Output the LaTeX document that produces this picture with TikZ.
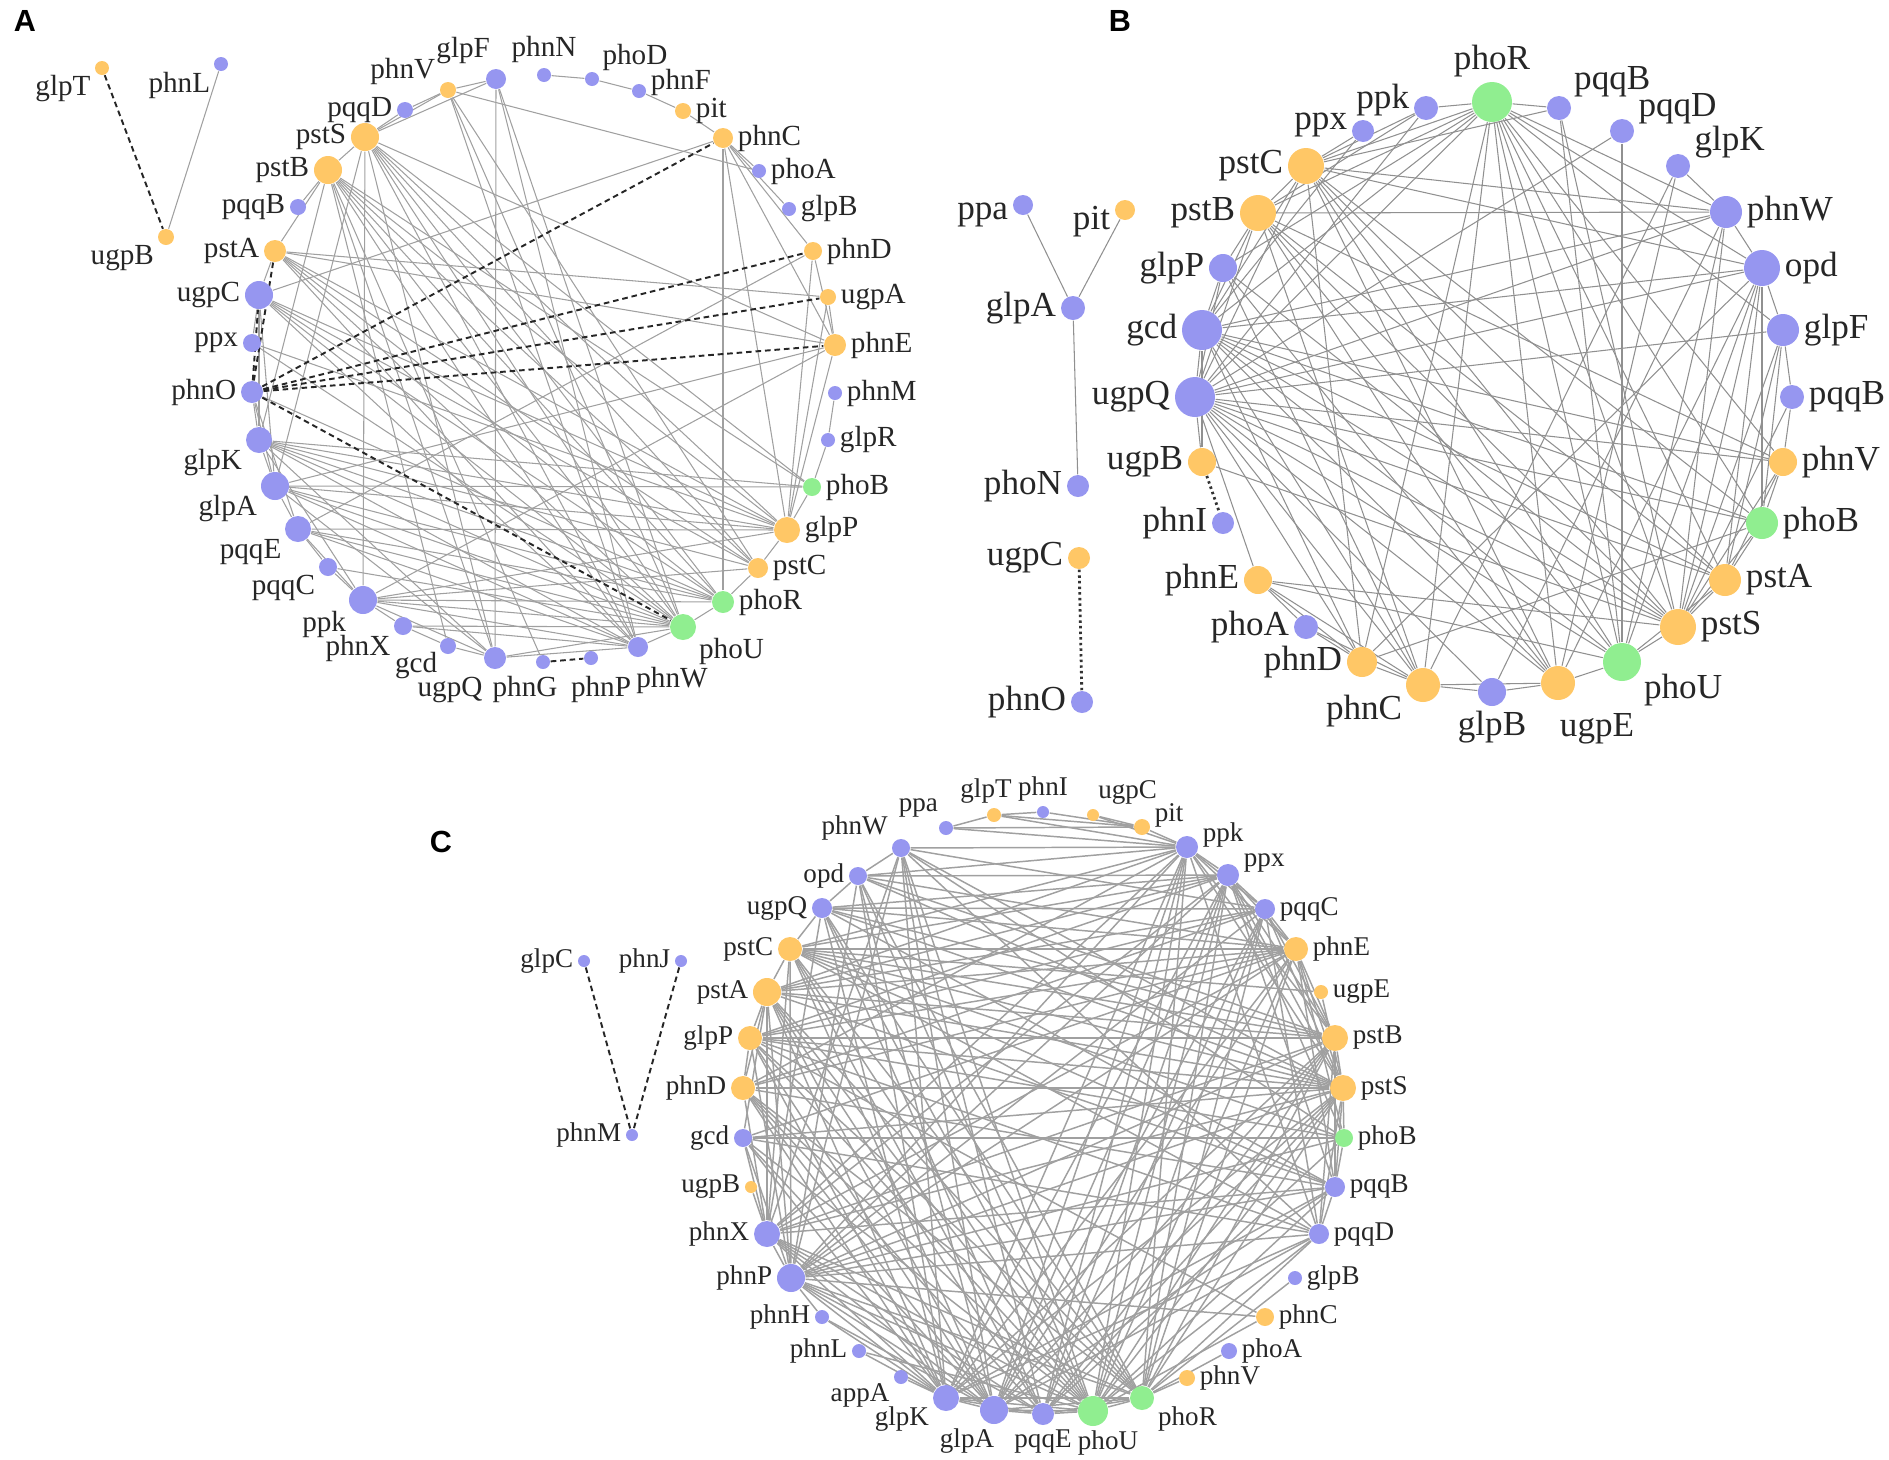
\documentclass[tikz,border=0pt]{standalone}
\usepackage{fontspec}
\setmainfont{Liberation Serif}
\newfontfamily\panelfont{Liberation Sans}
\usetikzlibrary{backgrounds}

\definecolor{nodeblue}{RGB}{150,150,240}
\definecolor{nodeorange}{RGB}{255,199,102}
\definecolor{nodegreen}{RGB}{144,238,144}
\definecolor{edgegray}{RGB}{160,160,160}

\begin{document}
\begin{tikzpicture}[x=0.1mm, y=-0.1mm]
			\tikzset{
				gene/.style={circle, inner sep=0pt, minimum size=#1*0.1mm},
				bgene/.style={gene=#1, fill=nodeblue},
				ogene/.style={gene=#1, fill=nodeorange},
				ggene/.style={gene=#1, fill=nodegreen},
				lblA/.style={font=\fontsize{8.3}{9}\selectfont, inner sep=1pt, text=black!85},
				lblB/.style={font=\fontsize{10}{11}\selectfont, inner sep=1pt, text=black!85},
				lblC/.style={font=\fontsize{7.7}{8.5}\selectfont, inner sep=1pt, text=black!85},
				panel/.style={font=\panelfont\bfseries\fontsize{8.7}{9}\selectfont},
				edgeA/.style={edgegray, line width=0.3pt},
				edgeB/.style={edgegray!90!black, line width=0.3pt},
				edgeC/.style={edgegray, line width=0.42pt},
				dashA/.style={black!85, line width=0.55pt, dash pattern=on 1.6pt off 1.1pt},
				dotB/.style={black!80, line width=0.8pt, dash pattern=on 0.7pt off 0.9pt},
			}
			\useasboundingbox (0,0) rectangle (1889,1459);
			\node[panel](letA) at (25,21) {A};
			\node[panel](letB) at (1120,21) {B};
			\node[panel](letC) at (441,842) {C};
			%panel A
			\node[ogene=14, label={[lblA]200:glpT}](AglpT) at (102,68) {};
			\node[bgene=14, label={[lblA]210:phnL}](AphnL) at (221,64) {};
			\node[ogene=16, label={[lblA]205:ugpB}](AugpB) at (166,237) {};
			\node[ogene=16, label={[lblA]170:phnV}](AphnV) at (448,90) {};
			\node[bgene=20, label={[lblA]100:glpF}](AglpF) at (496,79) {};
			\node[bgene=14, label={[lblA]90:phnN}](AphnN) at (544,75) {};
			\node[bgene=14, label={[lblA]35:phoD}](AphoD) at (592,79) {};
			\node[bgene=14, label={[lblA, yshift=0.9mm]0:phnF}](AphnF) at (639,91) {};
			\node[ogene=16, label={[lblA]0:pit}](Apit) at (683,111) {};
			\node[ogene=20, label={[lblA]0:phnC}](AphnC) at (723,138) {};
			\node[bgene=14, label={[lblA]0:phoA}](AphoA) at (759,171) {};
			\node[bgene=14, label={[lblA]0:glpB}](AglpB) at (789,209) {};
			\node[ogene=18, label={[lblA]0:phnD}](AphnD) at (813,251) {};
			\node[ogene=16, label={[lblA]0:ugpA}](AugpA) at (828,297) {};
			\node[ogene=22, label={[lblA]0:phnE}](AphnE) at (835,345) {};
			\node[bgene=14, label={[lblA]0:phnM}](AphnM) at (835,393) {};
			\node[bgene=14, label={[lblA]0:glpR}](AglpR) at (828,440) {};
			\node[ggene=18, label={[lblA]0:phoB}](AphoB) at (812,487) {};
			\node[ogene=26, label={[lblA]0:glpP}](AglpP) at (787,530) {};
			\node[ogene=20, label={[lblA]0:pstC}](ApstC) at (758,568) {};
			\node[ggene=22, label={[lblA]0:phoR}](AphoR) at (723,602) {};
			\node[ggene=26, label={[lblA]-30:phoU}](AphoU) at (683,627) {};
			\node[bgene=20, label={[lblA, xshift=3.4mm, yshift=-0.5mm]-90:phnW}](AphnW) at (638,647) {};
			\node[bgene=14, label={[lblA, xshift=1mm, yshift=-0.6mm]-90:phnP}](AphnP) at (591,658) {};
			\node[bgene=14, label={[lblA, xshift=-1.8mm, yshift=-0.2mm]-90:phnG}](AphnG) at (543,662) {};
			\node[bgene=22, label={[lblA, xshift=-4.5mm, yshift=-0.3mm]-90:ugpQ}](AugpQ) at (495,658) {};
			\node[bgene=16, label={[lblA, yshift=0.4mm]-140:gcd}](Agcd) at (448,646) {};
			\node[bgene=18, label={[lblA]-150:phnX}](AphnX) at (403,626) {};
			\node[bgene=28, label={[lblA]-150:ppk}](Appk) at (363,600) {};
			\node[bgene=18, label={[lblA]-155:pqqC}](ApqqC) at (328,567) {};
			\node[bgene=26, label={[lblA]-155:pqqE}](ApqqE) at (298,529) {};
			\node[bgene=28, label={[lblA]-160:glpA}](AglpA) at (275,486) {};
			\node[bgene=26, label={[lblA]-160:glpK}](AglpK) at (259,440) {};
			\node[bgene=22, label={[lblA]180:phnO}](AphnO) at (252,392) {};
			\node[bgene=18, label={[lblA]180:ppx}](Appx) at (252,343) {};
			\node[bgene=28, label={[lblA]180:ugpC}](AugpC) at (259,295) {};
			\node[ogene=22, label={[lblA]180:pstA}](ApstA) at (275,251) {};
			\node[bgene=16, label={[lblA]180:pqqB}](ApqqB) at (298,207) {};
			\node[ogene=28, label={[lblA]180:pstB}](ApstB) at (328,170) {};
			\node[ogene=28, label={[lblA]180:pstS}](ApstS) at (365,137) {};
			\node[bgene=16, label={[lblA]180:pqqD}](ApqqD) at (405,110) {};
			%panel B
			\node[bgene=20, label={[lblB, yshift=-1mm]180:ppa}](Bppa) at (1023,205) {};
			\node[ogene=20, label={[lblB, yshift=-1.2mm]180:pit}](Bpit) at (1125,210) {};
			\node[bgene=24, label={[lblB]180:glpA}](BglpA) at (1073,308) {};
			\node[bgene=22, label={[lblB]180:phoN}](BphoN) at (1078,486) {};
			\node[ogene=22, label={[lblB]180:ugpC}](BugpC) at (1079,558) {};
			\node[bgene=22, label={[lblB]180:phnO}](BphnO) at (1082,702) {};
			\node[ggene=40, label={[lblB]90:phoR}](BphoR) at (1492,102) {};
			\node[bgene=24, label={[lblB]30:pqqB}](BpqqB) at (1559,108) {};
			\node[bgene=24, label={[lblB]15:pqqD}](BpqqD) at (1622,131) {};
			\node[bgene=24, label={[lblB]15:glpK}](BglpK) at (1678,166) {};
			\node[bgene=32, label={[lblB]0:phnW}](BphnW) at (1726,212) {};
			\node[bgene=36, label={[lblB]0:opd}](Bopd) at (1762,268) {};
			\node[bgene=32, label={[lblB]0:glpF}](BglpF) at (1783,330) {};
			\node[bgene=24, label={[lblB]0:pqqB}](BpqqBb) at (1792,397) {};
			\node[ogene=28, label={[lblB]0:phnV}](BphnV) at (1783,462) {};
			\node[ggene=32, label={[lblB]0:phoB}](BphoB) at (1762,523) {};
			\node[ogene=32, label={[lblB]0:pstA}](BpstA) at (1725,580) {};
			\node[ogene=36, label={[lblB]0:pstS}](BpstS) at (1678,627) {};
			\node[ggene=38, label={[lblB]-25:phoU}](BphoU) at (1622,662) {};
			\node[ogene=34, label={[lblB, xshift=3.9mm, yshift=-0.9mm]-90:ugpE}](BugpE) at (1558,683) {};
			\node[bgene=28, label={[lblB]-90:glpB}](BglpB) at (1492,692) {};
			\node[ogene=34, label={[lblB]-160:phnC}](BphnC) at (1423,685) {};
			\node[ogene=30, label={[lblB]180:phnD}](BphnD) at (1362,662) {};
			\node[bgene=24, label={[lblB]180:phoA}](BphoA) at (1306,627) {};
			\node[ogene=28, label={[lblB]180:phnE}](BphnE) at (1258,580) {};
			\node[bgene=22, label={[lblB]180:phnI}](BphnI) at (1223,523) {};
			\node[ogene=28, label={[lblB]180:ugpB}](BugpB) at (1202,462) {};
			\node[bgene=40, label={[lblB]180:ugpQ}](BugpQ) at (1195,397) {};
			\node[bgene=40, label={[lblB]180:gcd}](Bgcd) at (1202,330) {};
			\node[bgene=28, label={[lblB]180:glpP}](BglpP) at (1223,268) {};
			\node[ogene=36, label={[lblB]180:pstB}](BpstB) at (1258,213) {};
			\node[ogene=36, label={[lblB]180:pstC}](BpstC) at (1306,166) {};
			\node[bgene=22, label={[lblB, yshift=0.6mm]180:ppx}](Bppx) at (1363,131) {};
			\node[bgene=24, label={[lblB, yshift=0.8mm]180:ppk}](Bppk) at (1426,108) {};
			%panel C
			\node[bgene=12, label={[lblC]180:glpC}](CglpC) at (584,961) {};
			\node[bgene=12, label={[lblC]180:phnJ}](CphnJ) at (681,961) {};
			\node[bgene=12, label={[lblC]180:phnM}](CphnM) at (632,1135) {};
			\node[bgene=18, label={[lblC]160:phnW}](CphnW) at (901,848) {};
			\node[bgene=14, label={[lblC]120:ppa}](Cppa) at (946,828) {};
			\node[ogene=14, label={[lblC, xshift=-0.8mm]90:glpT}](CglpT) at (994,815) {};
			\node[bgene=12, label={[lblC]90:phnI}](CphnI) at (1043,812) {};
			\node[ogene=12, label={[lblC]80:ugpC}](CugpC) at (1093,815) {};
			\node[ogene=16, label={[lblC, yshift=1.2mm]0:pit}](Cpit) at (1142,827) {};
			\node[bgene=22, label={[lblC, yshift=1.2mm]0:ppk}](Cppk) at (1187,847) {};
			\node[bgene=22, label={[lblC, yshift=1.2mm]0:ppx}](Cppx) at (1228,875) {};
			\node[bgene=20, label={[lblC]0:pqqC}](CpqqC) at (1265,909) {};
			\node[ogene=24, label={[lblC]0:phnE}](CphnE) at (1296,949) {};
			\node[ogene=14, label={[lblC]0:ugpE}](CugpE) at (1321,992) {};
			\node[ogene=26, label={[lblC]0:pstB}](CpstB) at (1335,1038) {};
			\node[ogene=26, label={[lblC]0:pstS}](CpstS) at (1343,1088) {};
			\node[ggene=18, label={[lblC]0:phoB}](CphoB) at (1344,1138) {};
			\node[bgene=20, label={[lblC]0:pqqB}](CpqqB) at (1335,1187) {};
			\node[bgene=20, label={[lblC]0:pqqD}](CpqqD) at (1319,1234) {};
			\node[bgene=14, label={[lblC]0:glpB}](CglpB) at (1295,1278) {};
			\node[ogene=18, label={[lblC]0:phnC}](CphnC) at (1265,1317) {};
			\node[bgene=16, label={[lblC]0:phoA}](CphoA) at (1229,1351) {};
			\node[ogene=16, label={[lblC]0:phnV}](CphnV) at (1187,1378) {};
			\node[ggene=24, label={[lblC]-20:phoR}](CphoR) at (1142,1398) {};
			\node[ggene=30, label={[lblC, xshift=1.5mm]-90:phoU}](CphoU) at (1093,1411) {};
			\node[bgene=22, label={[lblC]-90:pqqE}](CpqqE) at (1043,1414) {};
			\node[bgene=28, label={[lblC, xshift=-2.7mm]-90:glpA}](CglpA) at (994,1410) {};
			\node[bgene=26, label={[lblC]200:glpK}](CglpK) at (946,1398) {};
			\node[bgene=14, label={[lblC]195:appA}](CappA) at (901,1377) {};
			\node[bgene=14, label={[lblC]180:phnL}](CphnL) at (859,1351) {};
			\node[bgene=14, label={[lblC]180:phnH}](CphnH) at (822,1317) {};
			\node[bgene=28, label={[lblC]180:phnP}](CphnP) at (791,1278) {};
			\node[bgene=26, label={[lblC]180:phnX}](CphnX) at (767,1234) {};
			\node[ogene=12, label={[lblC]180:ugpB}](CugpB) at (751,1187) {};
			\node[bgene=18, label={[lblC]180:gcd}](Cgcd) at (743,1138) {};
			\node[ogene=24, label={[lblC]180:phnD}](CphnD) at (743,1088) {};
			\node[ogene=24, label={[lblC]180:glpP}](CglpP) at (750,1038) {};
			\node[ogene=28, label={[lblC]180:pstA}](CpstA) at (767,992) {};
			\node[ogene=24, label={[lblC]180:pstC}](CpstC) at (790,949) {};
			\node[bgene=20, label={[lblC]180:ugpQ}](CugpQ) at (822,908) {};
			\node[bgene=18, label={[lblC]180:opd}](Copd) at (858,876) {};
			%draw edges
			\begin{scope}[on background layer]
			\draw[edgeA] (ApstS) edge (AphoU) edge (AphoR) edge (ApstC) edge (AglpP) edge (AphnW) edge (AugpQ) edge (AphoB) edge (AphnE) edge (AglpF) edge (AphnV) edge (ApstB) edge (ApqqD) edge (AglpA) edge (Appk);
			\draw[edgeA] (ApstB) edge (AphoU) edge (AphoR) edge (ApstC) edge (AglpP) edge (AphnW) edge (AugpQ) edge (AphoB) edge (ApstA) edge (ApqqB) edge (AglpK) edge (AphnG) edge (Agcd);
			\draw[edgeA] (ApstA) edge (AphoU) edge (AglpP) edge (ApstC) edge (AphoR) edge (AphnW) edge (AugpC) edge (AphnE) edge (AugpA);
			\draw[edgeA] (AugpC) edge (AphoU) edge (AglpP) edge (ApstC) edge (AphnC) edge (AphoR) edge (AphnW) edge (AglpK) edge (AglpA) edge (Appx);
			\draw[edgeA] (Appx) edge (AphoU) edge (AglpP);
			\draw[edgeA] (AphnO) edge (AglpK) edge (AglpA) edge (ApqqE) edge (AphoR);
			\draw[edgeA] (AglpK) edge (AphoU) edge (AglpP) edge (AphoB) edge (ApstC) edge (AphoR) edge (AphnW) edge (AglpA) edge (Appk) edge (AugpQ);
			\draw[edgeA] (AglpA) edge (AphoU) edge (AglpP) edge (AphoB) edge (AphoR) edge (AphnW) edge (ApqqE) edge (AugpQ) edge (AphnE);
			\draw[edgeA] (ApqqE) edge (AphoU) edge (AglpP) edge (AphoR) edge (AphnW) edge (ApqqC) edge (Appk) edge (AphnD);
			\draw[edgeA] (ApqqC) edge (AphoU) edge (Appk);
			\draw[edgeA] (Appk) edge (AphoU) edge (AglpP) edge (AphnW) edge (ApstC) edge (AphoR) edge (AphnX) edge (AugpQ) edge (AphnE);
			\draw[edgeA] (AphnX) edge (AphnW) edge (AphoU) edge (Agcd);
			\draw[edgeA] (Agcd) edge (AugpQ);
			\draw[edgeA] (AugpQ) edge (AphnW) edge (AphoU) edge (AglpF);
			\draw[edgeA] (AphnW) edge (AphoU) edge (AglpF) edge (AphnV);
			\draw[edgeA] (AphoU) edge (AphoR) edge (AglpF) edge (AphnV);
			\draw[edgeA] (AphoR) edge (ApstC) edge (AphnC);
			\draw[edgeA] (ApstC) edge (AglpP) edge (AphnV);
			\draw[edgeA] (AglpP) edge (AphoB) edge (AphnC) edge (AphnD) edge (AugpA) edge (AphnE);
			\draw[edgeA] (AphnE) edge (AphnD) edge (AphnC) edge (AugpA);
			\draw[edgeA] (AphnM) edge (AglpR) (AglpR) edge (AphoB);
			\draw[edgeA] (AphnC) edge (AphoA) edge (AglpB) edge (AphnD);
			\draw[edgeA] (AphnV) edge (AphoA) edge (AglpF) edge (ApqqD);
			\draw[edgeA] (AphnN) edge (AphoD) (AphoD) edge (AphnF) (AphnF) edge (Apit) (Apit) edge (AphnC);
			\draw[edgeA] (AphnL) edge (AugpB);
			\draw[dashA] (AphnO) edge (AphnC) edge (AphnD) edge (AugpA) edge (AphnE) edge (AphoU) edge (ApstA) edge (AugpC);
			\draw[dashA] (AglpT) edge (AugpB) (AphnG) edge (AphnP);
			%
			\draw[edgeB] (BphoR) edge (Bppk) edge (BpqqB) edge (BugpQ) edge (Bgcd) edge (BglpP) edge (BpstB) edge (BpstC) edge (BphnW) edge (Bopd) edge (BglpF) edge (BphoB) edge (BpstA) edge (BpstS) edge (BphoU) edge (BugpE) edge (BphnC) edge (BphnD) edge (BphnV);
			\draw[edgeB] (BpqqB) edge (BpstC) edge (BphoU) edge (BpstS);
			\draw[edgeB] (BpqqD) edge (BugpQ) edge (BphoU);
			\draw[edgeB] (BglpK) edge (BphnW) edge (BugpE) edge (BphnC);
			\draw[edgeB] (BphnW) edge (BpstC) edge (BpstB) edge (Bgcd) edge (BugpQ) edge (Bopd) edge (BphoU) edge (BpstS) edge (BglpB);
			\draw[edgeB] (Bopd) edge (BpstC) edge (Bgcd) edge (BugpQ) edge (BglpF) edge (BphoU) edge (BpstS) edge (BpstA) edge (BphoB) edge (BugpE) edge (BphnD);
			\draw[edgeB] (BglpF) edge (BugpQ) edge (BpqqBb) edge (BpstA) edge (BpstS) edge (BphoB);
			\draw[edgeB] (BpqqBb) edge (BphnV) edge (BpstS);
			\draw[edgeB] (BphnV) edge (BugpQ) edge (Bgcd) edge (BpstB) edge (BphoB) edge (BpstS) edge (BpstA);
			\draw[edgeB] (BphoB) edge (BpstC) edge (BugpQ) edge (BpstA) edge (BpstS) edge (BphnD) edge (Bgcd);
			\draw[edgeB] (BpstA) edge (BpstB) edge (Bgcd) edge (BugpQ) edge (BpstS) edge (BphoU) edge (BpstC);
			\draw[edgeB] (BpstS) edge (BpstC) edge (BpstB) edge (Bgcd) edge (BugpQ) edge (BglpP) edge (BugpB) edge (BphoU) edge (BphnE);
			\draw[edgeB] (BphoU) edge (BpstC) edge (BpstB) edge (Bgcd) edge (BugpQ) edge (BugpE) edge (BphnE);
			\draw[edgeB] (BugpE) edge (BpstC) edge (BpstB) edge (Bgcd) edge (BugpQ) edge (BglpB) edge (BphnC) edge (BglpP);
			\draw[edgeB] (BglpB) edge (BphnC) edge (BugpQ);
			\draw[edgeB] (BphnC) edge (BphnD) edge (BpstB) edge (Bgcd) edge (BugpQ) edge (BglpP) edge (BphoA) edge (BphnE);
			\draw[edgeB] (BphnD) edge (BugpQ) edge (Bgcd) edge (BpstC) edge (BphoA) edge (BphnE);
			\draw[edgeB] (BphoA) edge (BphnE);
			\draw[edgeB] (BphnE) edge (BugpQ);
			\draw[edgeB] (BugpB) edge (BugpQ) edge (Bgcd);
			\draw[edgeB] (BugpQ) edge (Bgcd) edge (BglpP) edge (BpstB) edge (BpstC) edge (Bppk);
			\draw[edgeB] (Bgcd) edge (BglpP) edge (BpstB) edge (BpstC) edge (Bppx);
			\draw[edgeB] (BglpP) edge (BpstB);
			\draw[edgeB] (BpstB) edge (BpstC) edge (Bppk);
			\draw[edgeB] (BpstC) edge (Bppx) edge (Bppk);
			\draw[edgeB] (BglpA) edge (Bppa) edge (Bpit) edge (BphoN);
			\draw[dotB] (BugpB) edge (BphnI) (BugpC) edge (BphnO);
			%
			\draw[edgeC] (Cppa) edge (CglpT) edge (Cpit) edge (Cppk);
			\draw[edgeC] (CglpT) edge (CphnI) edge (Cpit) edge (Cppk);
			\draw[edgeC] (Cpit) edge (CphnI) edge (CugpC) edge (Cppk);
			\draw[edgeC] (CugpC) edge (Cppk);
			\draw[edgeC] (CphnW) edge (Cppk) edge (CpstS) edge (CphoB) edge (CpqqD) edge (CglpA) edge (CpqqE) edge (CphoU) edge (CphnP) edge (CphnX) edge (CglpK) edge (Copd) edge (CpqqC);
			\draw[edgeC] (Copd) edge (Cppk) edge (Cppx) edge (CphnE) edge (CpstB) edge (CpstS) edge (CphoR) edge (CphoU) edge (CglpA) edge (CglpK) edge (CphnP) edge (CugpQ);
			\draw[edgeC] (CugpQ) edge (Cppx) edge (CpqqC) edge (CphnE) edge (CpstB) edge (CpstS) edge (CpqqB) edge (CphoU) edge (CphoR) edge (CpqqE) edge (CglpK) edge (CphnX) edge (CpstC);
			\draw[edgeC] (CpstC) edge (Cppk) edge (Cppx) edge (CphnE) edge (CugpE) edge (CpstB) edge (CpstS) edge (CphoB) edge (CpqqB) edge (CpqqD) edge (CphoR) edge (CphoU) edge (CglpA) edge (CpqqE) edge (CphnP) edge (CphnX) edge (CpstA);
			\draw[edgeC] (CpstA) edge (Cppk) edge (Cppx) edge (CpqqC) edge (CphnE) edge (CpstB) edge (CpstS) edge (CpqqB) edge (CphoR) edge (CphoU) edge (CglpK) edge (CglpA) edge (CpqqE) edge (CphnP) edge (CphnX) edge (CglpP) edge (CphnD) edge (Cgcd);
			\draw[edgeC] (CglpP) edge (Cppx) edge (CpqqC) edge (CphnE) edge (CpstB) edge (CpstS) edge (CphoB) edge (CpqqD) edge (CphnC) edge (CphoR) edge (CphoU) edge (CglpA) edge (CglpK) edge (CphnP) edge (CphnD);
			\draw[edgeC] (CphnD) edge (Cppk) edge (CpqqC) edge (CphnE) edge (CpstS) edge (CpqqB) edge (CphoR) edge (CphoU) edge (CglpK) edge (CglpA) edge (CpqqE) edge (CphnX);
			\draw[edgeC] (Cgcd) edge (CphoB) edge (CpstS) edge (CphnE) edge (CpqqD) edge (CglpA) edge (CglpK) edge (CphoU) edge (CphnP) edge (CphnX);
			\draw[edgeC] (CugpB) edge (CphnX);
			\draw[edgeC] (CphnX) edge (Cppk) edge (Cppx) edge (CphnE) edge (CpstB) edge (CpstS) edge (CpqqB) edge (CphoR) edge (CphoU) edge (CpqqE) edge (CglpA) edge (CglpK) edge (CphnP);
			\draw[edgeC] (CphnP) edge (Cppk) edge (Cppx) edge (CpqqC) edge (CphnE) edge (CpstB) edge (CpstS) edge (CphoB) edge (CpqqB) edge (CpqqD) edge (CphnC) edge (CphoR) edge (CphoU) edge (CpqqE) edge (CglpA) edge (CglpK) edge (CphnH);
			\draw[edgeC] (CphnH) edge (CglpK) edge (CglpA);
			\draw[edgeC] (CphnL) edge (CglpK) edge (CphoU);
			\draw[edgeC] (CappA) edge (CglpK);
			\draw[edgeC] (CglpK) edge (Cppk) edge (Cppx) edge (CphnE) edge (CpstB) edge (CpstS) edge (CpqqB) edge (CpqqD) edge (CphoR) edge (CphoU) edge (CglpA) edge (CpqqE);
			\draw[edgeC] (CglpA) edge (Cppk) edge (Cppx) edge (CpqqC) edge (CphnE) edge (CpstB) edge (CpstS) edge (CpqqB) edge (CpqqD) edge (CphoR) edge (CphoU) edge (CpqqE);
			\draw[edgeC] (CpqqE) edge (Cppk) edge (Cppx) edge (CpqqC) edge (CpstB) edge (CpstS) edge (CphoB) edge (CphoU) edge (CphoR);
			\draw[edgeC] (CphoU) edge (Cppk) edge (Cppx) edge (CpqqC) edge (CphnE) edge (CpstB) edge (CpstS) edge (CpqqB) edge (CpqqD) edge (CphoR) edge (CphnC);
			\draw[edgeC] (CphoR) edge (Cppk) edge (Cppx) edge (CpqqC) edge (CphnE) edge (CpstB) edge (CpstS) edge (CpqqD) edge (CphnV) edge (CphoA) edge (CglpB);
			\draw[edgeC] (CpqqD) edge (Cppk) edge (CpqqC) edge (CpstB) edge (CpstS) edge (CpqqB);
			\draw[edgeC] (CpqqB) edge (Cppx) edge (CpstB) edge (CpstS) edge (CphoB) edge (CphnE);
			\draw[edgeC] (CphoB) edge (CpstS) edge (CphnE) edge (Cppx);
			\draw[edgeC] (CpstS) edge (Cppk) edge (Cppx) edge (CpqqC) edge (CphnE) edge (CpstB) edge (CugpE);
			\draw[edgeC] (CpstB) edge (Cppk) edge (Cppx) edge (CpqqC) edge (CphnE);
			\draw[edgeC] (CphnE) edge (Cppk) edge (Cppx) edge (CpqqC);
			\draw[edgeC] (CpqqC) edge (Cppk) edge (Cppx);
			\draw[edgeC] (Cppx) edge (Cppk);
			\draw[dashA] (CglpC) edge (CphnM) (CphnJ) edge (CphnM);
			\end{scope}
		\end{tikzpicture}
\end{document}
